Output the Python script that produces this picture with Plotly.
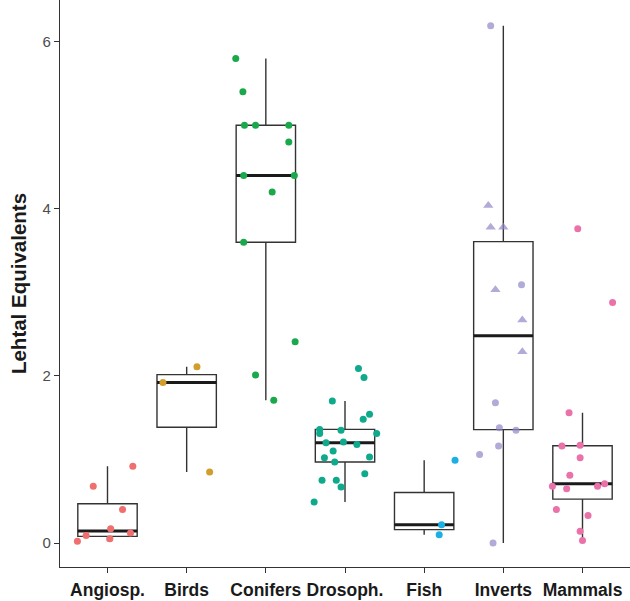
import numpy as np
import plotly.graph_objects as go

categories = ["Angiosp.", "Birds", "Conifers", "Drosoph.", "Fish", "Inverts", "Mammals"]
colors = ["#EE6F6D", "#D29E2B", "#19A94B", "#0FA98B", "#1BAFE4", "#8E88C6", "#EB72A8"]

angiosp_vals = [0.92, 0.68, 0.40, 0.17, 0.12, 0.09, 0.05, 0.02]
angiosp_jit = [0.32, -0.18, 0.19, 0.04, 0.29, -0.27, 0.03, -0.38]

birds_vals = [2.11, 1.92, 0.85]
birds_jit = [0.13, -0.30, 0.29]

conifers_vals = [5.80, 5.40, 5.00, 5.00, 5.00, 4.80, 4.40, 4.40, 4.20, 3.60, 2.41, 2.01, 1.71]
conifers_jit = [-0.38, -0.29, -0.27, -0.13, 0.29, 0.29, -0.28, 0.36, 0.08, -0.28, 0.37, -0.13, 0.10]

drosoph_vals = [2.09, 1.98, 1.70, 1.54, 1.48, 1.36, 1.35, 1.31, 1.31, 1.20, 1.21, 1.18,
                1.10, 1.02, 1.03, 0.97, 0.83, 0.75, 0.75, 0.67, 0.49]
drosoph_jit = [0.17, 0.24, -0.16, 0.31, 0.23, -0.32, -0.05, -0.32, 0.40, -0.24, -0.02, 0.15,
               -0.15, -0.26, 0.31, -0.13, 0.25, -0.29, -0.11, -0.05, -0.39]

fish_vals = [0.99, 0.22, 0.10]
fish_jit = [0.39, 0.22, 0.19]

inverts_vals = [6.19, 3.09, 1.68, 1.38, 1.35, 1.16, 1.06, 0.00, 4.04, 3.78, 3.78, 3.03, 2.67, 2.29]
inverts_jit = [-0.16, 0.23, -0.10, -0.05, 0.16, -0.06, -0.30, -0.13, -0.19, -0.16, 0.00, -0.10, 0.24, 0.24]
inverts_shape = ["circle"] * 8 + ["triangle-up"] * 6

mammals_vals = [3.76, 2.88, 1.56, 1.16, 1.17, 1.02, 0.81, 0.68, 0.65, 0.68, 0.71, 0.40, 0.33, 0.14, 0.03]
mammals_jit = [-0.06, 0.38, -0.17, -0.26, -0.03, -0.03, -0.16, -0.38, -0.20, 0.19, 0.28, -0.33, 0.07, -0.03, 0.00]

all_vals = [angiosp_vals, birds_vals, conifers_vals, drosoph_vals, fish_vals, inverts_vals, mammals_vals]
all_jit = [angiosp_jit, birds_jit, conifers_jit, drosoph_jit, fish_jit, inverts_jit, mammals_jit]

y_ticks = [0, 2, 4, 6]


def box_stats(v):
    a = np.asarray(v, dtype=float)
    q1, med, q3 = np.percentile(a, [25, 50, 75])
    iqr = q3 - q1
    lf = a[a >= q1 - 1.5 * iqr].min()
    uf = a[a <= q3 + 1.5 * iqr].max()
    return q1, med, q3, lf, uf


stats = [box_stats(v) for v in all_vals]
pos = list(range(len(categories)))
BOXW = 0.75

fig = go.Figure()
fig.add_trace(go.Box(
    x=pos,
    q1=[s[0] for s in stats],
    median=[s[1] for s in stats],
    q3=[s[2] for s in stats],
    lowerfence=[s[3] for s in stats],
    upperfence=[s[4] for s in stats],
    width=BOXW,
    whiskerwidth=0,
    fillcolor="white",
    line=dict(color="#333333", width=1.4),
    boxpoints=False,
    orientation="v",
    hoverinfo="skip",
    showlegend=False,
))

mx, my = [], []
for i, s in enumerate(stats):
    mx += [i - BOXW / 2, i + BOXW / 2, None]
    my += [s[1], s[1], None]
fig.add_trace(go.Scatter(x=mx, y=my, mode="lines", line=dict(color="#1a1a1a", width=3),
                         showlegend=False, hoverinfo="skip"))

for i, (vals, jit) in enumerate(zip(all_vals, all_jit)):
    xs = [i + j for j in jit]
    if categories[i] == "Inverts":
        symbols = inverts_shape
        sizes = [7 if s == "circle" else 9 for s in inverts_shape]
    else:
        symbols = "circle"
        sizes = 7
    fig.add_trace(go.Scatter(
        x=xs, y=vals, mode="markers",
        marker=dict(color=colors[i], size=sizes, symbol=symbols, line=dict(width=0)),
        showlegend=False, name=categories[i],
    ))

fig.update_layout(
    width=630, height=601,
    margin=dict(l=60, r=0, t=0, b=34, autoexpand=False),
    paper_bgcolor="white", plot_bgcolor="white",
    font=dict(family="Liberation Sans, Arial, sans-serif"),
    showlegend=False,
)
fig.update_xaxes(
    range=[-0.6, 6.6], tickmode="array", tickvals=pos, ticktext=categories,
    showline=True, linecolor="#333333", linewidth=1.2, ticks="outside", ticklen=5,
    tickcolor="#333333", tickwidth=1.2, showgrid=False, zeroline=False, automargin=False,
    tickfont=dict(size=17.5, color="#1a1a1a", family="Liberation Sans, Arial, sans-serif", weight="bold"),
    ticklabelstandoff=2,
)
fig.update_yaxes(
    range=[-0.287, 6.499], tickmode="array", tickvals=y_ticks, ticktext=[str(t) for t in y_ticks],
    showline=True, linecolor="#333333", linewidth=1.2, ticks="outside", ticklen=5,
    tickcolor="#333333", tickwidth=1.2, showgrid=False, zeroline=False, automargin=False,
    tickfont=dict(size=15, color="#4d4d4d"),
    title=dict(text="<b>Lehtal Equivalents</b>", font=dict(size=20.5, color="#1a1a1a"), standoff=10),
)

fig.write_html("out.html", config={"displayModeBar": False},
               post_script="document.body.style.margin='0';")
